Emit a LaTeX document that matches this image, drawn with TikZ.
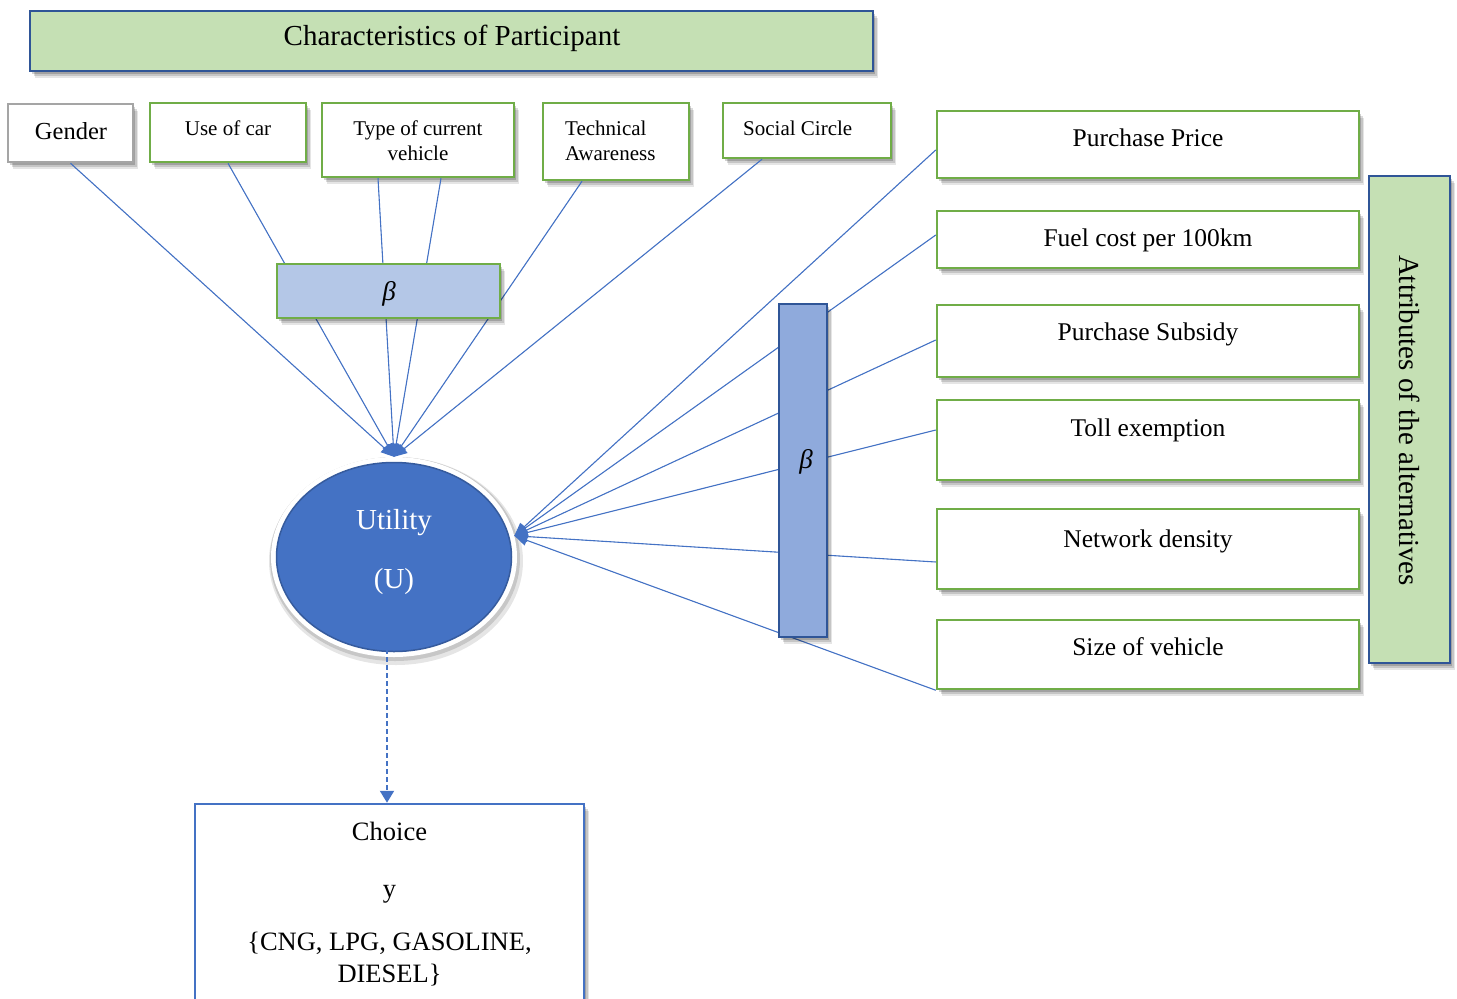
\documentclass[tikz,border=0pt]{standalone}
\usepackage{fontspec}
\setmainfont{Liberation Serif}
\usetikzlibrary{shapes.geometric,arrows.meta,shadows}

\definecolor{grnline}{HTML}{70AD47}
\definecolor{grnfill}{HTML}{C5E0B4}
\definecolor{navy}{HTML}{2F5597}
\definecolor{accent}{HTML}{4472C4}
\definecolor{betafill}{HTML}{B4C7E7}
\definecolor{barfill}{HTML}{8FAADC}
\definecolor{graybox}{HTML}{A5A5A5}

\tikzset{
  softshadow/.style={
    drop shadow={shadow xshift=5pt,shadow yshift=-6.5pt,fill=black,opacity=.10},
    drop shadow={shadow xshift=3.5pt,shadow yshift=-4.5pt,fill=black,opacity=.14},
    drop shadow={shadow xshift=2pt,shadow yshift=-2.5pt,fill=black,opacity=.18}},
  box/.style={rectangle,inner sep=0pt,draw=grnline,line width=2.5pt,fill=white,softshadow},
  headbox/.style={box,draw=navy,line width=2pt,fill=grnfill},
  betabox/.style={box,fill=betafill},
  barbox/.style={box,draw=navy,line width=2pt,fill=barfill},
  txt/.style={inner sep=0pt,anchor=base},
  small/.style={font=\fontsize{21}{25}\selectfont},
  mid/.style={font=\fontsize{25.5}{30}\selectfont},
  big/.style={font=\fontsize{29}{34}\selectfont},
  link/.style={draw=accent,line width=1.1pt,-{Triangle[length=13pt,width=11pt]},fill=accent},
  dashlink/.style={color=accent,line width=2pt,dash pattern=on 5pt off 3pt,
    -{Triangle[length=12pt,width=14pt]}},
}

\begin{document}
\begin{tikzpicture}[x=1pt,y=-1pt]
\useasboundingbox (0,0) rectangle (1457,999);
\clip (0,0) rectangle (1457,999);

% ---- participant characteristics ----
\node[headbox,minimum width=843pt,minimum height=60pt] (title) at (451.5,41) {};
\node[txt,big] (title-t) at (452,45.7) {Characteristics of Participant};

\node[box,draw=graybox,minimum width=125pt,minimum height=58pt] (gender) at (70.5,133) {};
\node[txt,font=\fontsize{24.5}{29}\selectfont] (gender-t) at (71,139) {Gender};

\node[box,minimum width=156pt,minimum height=59pt] (usecar) at (228,132.5) {};
\node[txt,small] (usecar-t) at (228,135) {Use of car};

\node[box,minimum width=192pt,minimum height=74pt] (ctype) at (418,140) {};
\node[txt,small] (ctype-t1) at (418,135) {Type of current};
\node[txt,small] (ctype-t2) at (418,160.7) {vehicle};

\node[box,minimum width=146pt,minimum height=77pt] (techaw) at (616,141.5) {};
\node[txt,small,anchor=base west] (techaw-t1) at (565,135) {Technical};
\node[txt,small,anchor=base west] (techaw-t2) at (565,160.7) {Awareness};

\node[box,minimum width=168pt,minimum height=55pt] (social) at (807,130.5) {};
\node[txt,small,anchor=base west] (social-t) at (743,135) {Social Circle};

% ---- attributes of the alternatives ----
\node[box,minimum width=422pt,minimum height=67pt] (price) at (1148,144.5) {};
\node[txt,mid] (price-t) at (1148,146.7) {Purchase Price};

\node[box,minimum width=422pt,minimum height=57pt] (fuel) at (1148,239.5) {};
\node[txt,mid] (fuel-t) at (1148,246.7) {Fuel cost per 100km};

\node[box,minimum width=422pt,minimum height=72pt] (subsidy) at (1148,341) {};
\node[txt,mid] (subsidy-t) at (1148,340) {Purchase Subsidy};

\node[box,minimum width=422pt,minimum height=80pt] (toll) at (1148,440) {};
\node[txt,mid] (toll-t) at (1148,436.7) {Toll exemption};

\node[box,minimum width=422pt,minimum height=80pt] (network) at (1148,549) {};
\node[txt,mid] (network-t) at (1148,547.7) {Network density};

\node[box,minimum width=422pt,minimum height=69pt] (size) at (1148,654.5) {};
\node[txt,mid] (size-t) at (1148,655.7) {Size of vehicle};

\node[headbox,line width=2.5pt,minimum width=81pt,minimum height=487pt] (attrs) at (1409.5,419.5) {};
\node[inner sep=0pt,rotate=-90,font=\fontsize{29}{33}\selectfont] (attrs-t) at (1410,420.5)
  {Attributes of the alternatives};

% ---- utility ----
\node[ellipse,fill=black!10,inner sep=0pt,minimum width=254pt,minimum height=208pt] (util-haze) at (396,561) {};
\node[ellipse,fill=black!22,inner sep=0pt,minimum width=250pt,minimum height=204pt] (util-glow) at (395,559) {};
\node[ellipse,fill=white,inner sep=0pt,minimum width=246pt,minimum height=200pt] (util) at (394,557) {};
\node[ellipse,fill=accent,draw=accent!80!black,line width=1.5pt,inner sep=0pt,
  minimum width=235pt,minimum height=189pt] (util-core) at (util.center) {};
\node[txt,big,text=white] (util-t1) at (394,529) {Utility};
\node[txt,big,text=white] (util-t2) at (394,588) {(U)};

% ---- choice ----
\node[box,draw=accent,minimum width=389pt,minimum height=216pt] (choice) at (389.5,912) {};
\node[txt,font=\fontsize{26.5}{31}\selectfont] (choice-t1) at (389.5,840) {Choice};
\node[txt,font=\fontsize{26.5}{31}\selectfont] (choice-t2) at (389.5,897) {y};
\node[txt,font=\fontsize{26.5}{31}\selectfont] (choice-t3) at (389.5,950) {\{CNG, LPG, GASOLINE,};
\node[txt,font=\fontsize{26.5}{31}\selectfont] (choice-t4) at (389.5,982.7) {DIESEL\}};
\coordinate (choice-in) at ([xshift=-2.5pt]choice.north);

% ---- connectors into the utility ----
\draw[link] (gender.south) -- (util.north);
\draw[link] (usecar.south) -- (util.north);
\draw[link] ([xshift=-40pt]ctype.south) -- (util.north);
\draw[link] ([xshift=23pt]ctype.south) -- (util.north);
\draw[link] ([xshift=-34pt]techaw.south) -- (util.north);
\draw[link] ([xshift=-45pt]social.south) -- (util.north);

\draw[link] ([yshift=-5.5pt]price.west) -- (util.10);
\draw[link] ([yshift=4.5pt]fuel.west) -- (util.10);
\draw[link] ([yshift=1pt]subsidy.west) -- (util.10);
\draw[link] ([yshift=10pt]toll.west) -- (util.10);
\draw[link] ([yshift=-13pt]network.west) -- (util.10);
\draw[link] (size.south west) -- (util.10);

\draw[dashlink] ([yshift=8pt]util.south -| choice-in) -- (choice-in);

% ---- coefficient blocks over the links ----
\node[betabox,minimum width=223pt,minimum height=54pt] (betaT) at (388.5,291) {};
\node[font=\fontsize{27}{32}\selectfont,inner sep=0pt] (betaT-t) at (389,294) {\textit{β}};
\node[barbox,minimum width=48pt,minimum height=333pt] (betaR) at (803,470.5) {};
\node[font=\fontsize{27}{32}\selectfont,inner sep=0pt] (betaR-t) at (806,462) {\textit{β}};
\end{tikzpicture}
\end{document}
